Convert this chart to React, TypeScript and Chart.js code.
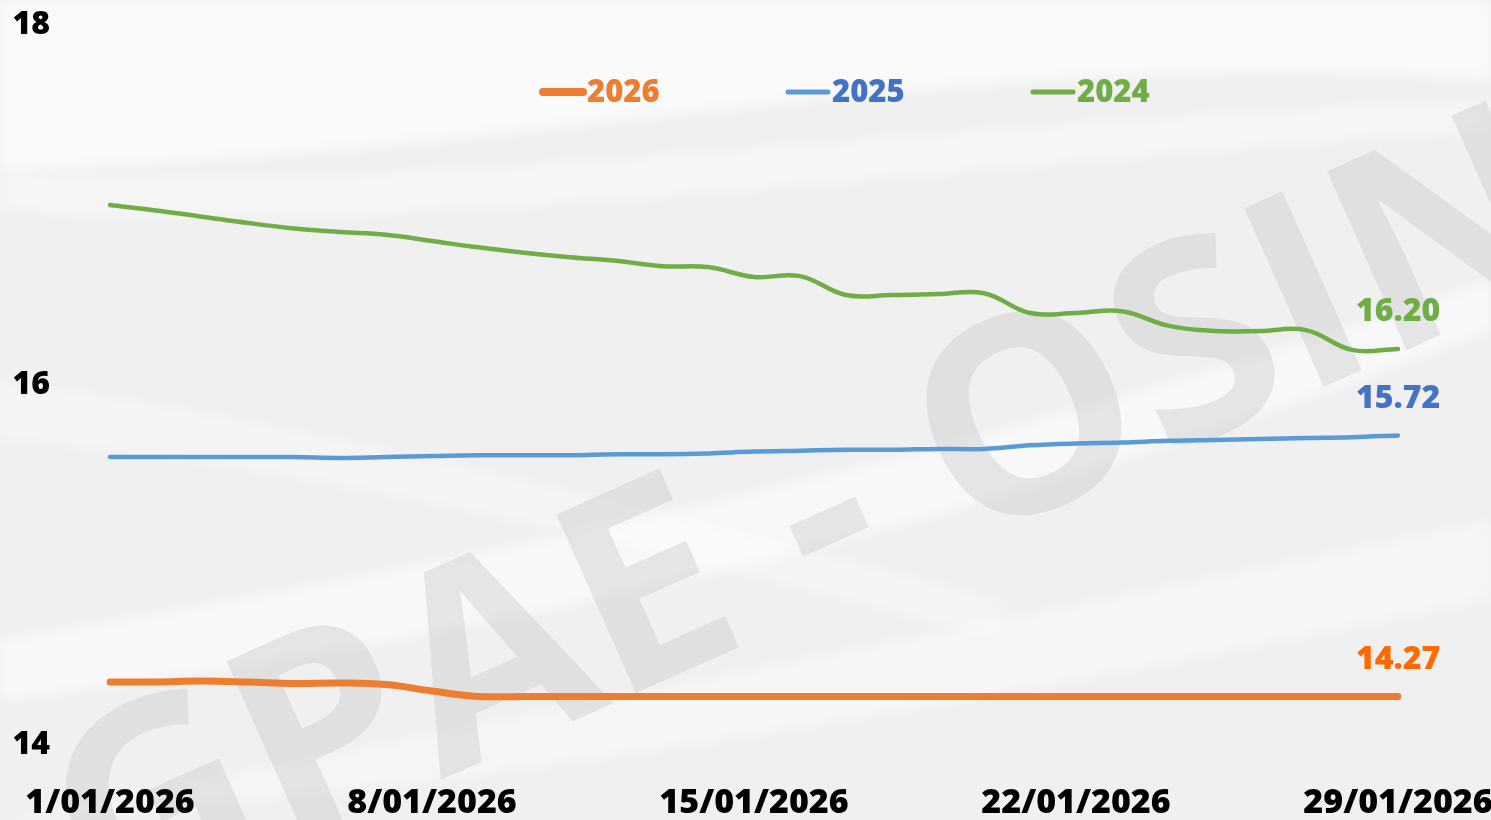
import React, { useEffect, useRef } from "react";
import { Chart, registerables } from "chart.js";

Chart.register(...registerables);

const categories = [
  "1/01/2026", "2/01/2026", "3/01/2026", "4/01/2026", "5/01/2026", "6/01/2026", "7/01/2026",
  "8/01/2026", "9/01/2026", "10/01/2026", "11/01/2026", "12/01/2026", "13/01/2026", "14/01/2026",
  "15/01/2026", "16/01/2026", "17/01/2026", "18/01/2026", "19/01/2026", "20/01/2026", "21/01/2026",
  "22/01/2026", "23/01/2026", "24/01/2026", "25/01/2026", "26/01/2026", "27/01/2026", "28/01/2026",
  "29/01/2026",
];

const shownTicks = ["1/01/2026", "8/01/2026", "15/01/2026", "22/01/2026", "29/01/2026"];

const seriesNames = ["2026", "2025", "2024"];

const values2026 = [
  14.35, 14.35, 14.355, 14.35, 14.342, 14.345, 14.336, 14.3, 14.27, 14.27,
  14.27, 14.27, 14.27, 14.27, 14.27, 14.27, 14.27, 14.27, 14.27, 14.27,
  14.27, 14.27, 14.27, 14.27, 14.27, 14.27, 14.27, 14.27, 14.27,
];

const values2025 = [
  15.6, 15.6, 15.6, 15.6, 15.6, 15.595, 15.6, 15.605, 15.61, 15.61,
  15.61, 15.615, 15.615, 15.62, 15.63, 15.635, 15.64, 15.64, 15.645, 15.645,
  15.665, 15.675, 15.68, 15.69, 15.695, 15.7, 15.705, 15.71, 15.72,
];

const values2024 = [
  17.0, 16.97, 16.935, 16.9, 16.87, 16.85, 16.835, 16.8, 16.765, 16.735,
  16.71, 16.69, 16.66, 16.655, 16.6, 16.605, 16.5, 16.5, 16.505, 16.51,
  16.4, 16.4, 16.41, 16.33, 16.3, 16.3, 16.305, 16.195, 16.2,
];

const yMin = 14;
const yMax = 18;
const yStep = 2;

const lineColors = ["#ED7D31", "#5B9BD5", "#70AD47"];
const legendTextColors = ["#ED7D31", "#4472C4", "#70AD47"];
const labelColors = ["#FF6A00", "#4472C4", "#70AD47"];
const lineWidths = [7, 4.5, 4.5];

const FONT = "'Open Sans', 'DejaVu Sans', sans-serif";

const backgroundPlugin = {
  id: "backgroundPlugin",
  beforeDraw(chart: any) {
    const { ctx, width, height } = chart;
    ctx.save();
    ctx.fillStyle = "#f0f0f0";
    ctx.fillRect(0, 0, width, height);

    const band = (pts: number[][], alpha: number) => {
      ctx.beginPath();
      ctx.moveTo(pts[0][0], pts[0][1]);
      ctx.bezierCurveTo(pts[1][0], pts[1][1], pts[2][0], pts[2][1], pts[3][0], pts[3][1]);
      ctx.lineTo(pts[4][0], pts[4][1]);
      ctx.bezierCurveTo(pts[5][0], pts[5][1], pts[6][0], pts[6][1], pts[7][0], pts[7][1]);
      ctx.closePath();
      ctx.fillStyle = `rgba(255,255,255,${alpha})`;
      ctx.fill();
    };
    ctx.filter = "blur(6px)";
    band([[0, 0], [500, 0], [1000, 0], [1491, 0], [1491, 80], [1000, 40], [500, 160], [0, 170]], 0.65);
    band([[0, 170], [400, 200], [900, 120], [1491, 100], [1491, 130], [900, 170], [400, 240], [0, 210]], 0.35);
    band([[0, 640], [500, 560], [1000, 450], [1491, 280], [1491, 330], [1000, 520], [500, 640], [0, 700]], 0.55);
    band([[0, 820], [500, 720], [1000, 620], [1491, 520], [1491, 600], [1000, 700], [500, 790], [0, 820]], 0.35);
    band([[0, 380], [300, 420], [700, 520], [1000, 600], [1000, 640], [700, 560], [300, 460], [0, 440]], 0.3);
    ctx.filter = "none";

    ctx.translate(845, 600);
    ctx.rotate((-24 * Math.PI) / 180);
    ctx.font = `700 274px ${FONT}`;
    ctx.fillStyle = "rgba(200,200,200,0.4)";
    ctx.textAlign = "center";
    ctx.textBaseline = "alphabetic";
    ctx.fillText("GPAE - OSIN", 0, 0);
    ctx.restore();
  },
};

const legendPlugin = {
  id: "customLegend",
  afterDraw(chart: any) {
    const { ctx } = chart;
    const startX = 540;
    const step = 245;
    const y = 92;
    ctx.save();
    ctx.font = `800 31px ${FONT}`;
    ctx.textBaseline = "middle";
    ctx.textAlign = "left";
    chart.data.datasets.forEach((ds: any, i: number) => {
      const x = startX + i * step;
      ctx.strokeStyle = lineColors[i];
      ctx.lineWidth = i === 0 ? 8 : 5;
      ctx.lineCap = "round";
      ctx.beginPath();
      ctx.moveTo(x + 3, y);
      ctx.lineTo(x + 43, y);
      ctx.stroke();
      ctx.fillStyle = legendTextColors[i];
      ctx.fillText(ds.label, x + 47, y + 1);
    });
    ctx.restore();
  },
};

const endLabelPlugin = {
  id: "endLabels",
  afterDatasetsDraw(chart: any) {
    const { ctx } = chart;
    ctx.save();
    ctx.font = `800 32px ${FONT}`;
    ctx.textAlign = "center";
    ctx.textBaseline = "middle";
    chart.data.datasets.forEach((ds: any, i: number) => {
      const meta = chart.getDatasetMeta(i);
      const last = meta.data[meta.data.length - 1];
      if (!last) return;
      const v = ds.data[ds.data.length - 1];
      ctx.fillStyle = labelColors[i];
      ctx.fillText(Number(v).toFixed(2), last.x, last.y - 37);
    });
    ctx.restore();
  },
};

export default function App() {
  const canvasRef = useRef<HTMLCanvasElement | null>(null);

  useEffect(() => {
    if (!canvasRef.current) return;
    const seriesValues = [values2026, values2025, values2024];
    const chart = new Chart(canvasRef.current, {
      type: "line",
      data: {
        labels: categories,
        datasets: seriesNames.map((name, i) => ({
          label: name,
          data: seriesValues[i],
          borderColor: lineColors[i],
          backgroundColor: lineColors[i],
          borderWidth: lineWidths[i],
          borderCapStyle: "round",
          borderJoinStyle: "round",
          pointRadius: 0,
          pointHoverRadius: 0,
          tension: 0.4,
          fill: false,
        })),
      },
      options: {
        animation: false,
        responsive: false,
        devicePixelRatio: 1,
        layout: { padding: { top: 25, right: 93, left: 0, bottom: 0 } },
        plugins: {
          legend: { display: false },
          tooltip: { enabled: false },
        },
        scales: {
          x: {
            grid: { display: false, drawTicks: false },
            border: { display: false },
            ticks: {
              autoSkip: false,
              maxRotation: 0,
              minRotation: 0,
              color: "#000",
              padding: 38,
              font: { family: FONT, size: 34, weight: "800" },
              callback: (_v: any, i: number) =>
                shownTicks.includes(categories[i]) ? categories[i] : "",
            },
            afterFit: (s: any) => {
              s.height = 75;
              s.paddingLeft = 0;
              s.paddingRight = 0;
            },
          },
          y: {
            min: yMin,
            max: yMax,
            grid: { display: false, drawTicks: false },
            border: { display: false },
            ticks: {
              stepSize: yStep,
              color: "#000",
              padding: 60,
              font: { family: FONT, size: 32, weight: "800" },
            },
            afterFit: (s: any) => {
              s.width = 110;
              s.paddingTop = 0;
              s.paddingBottom = 0;
            },
          },
        },
      },
      plugins: [backgroundPlugin, endLabelPlugin, legendPlugin],
    } as any);
    return () => chart.destroy();
  }, []);

  return (
    <canvas
      ref={canvasRef}
      width={1491}
      height={820}
      style={{ position: "absolute", left: 0, top: 0, width: 1491, height: 820 }}
    />
  );
}
